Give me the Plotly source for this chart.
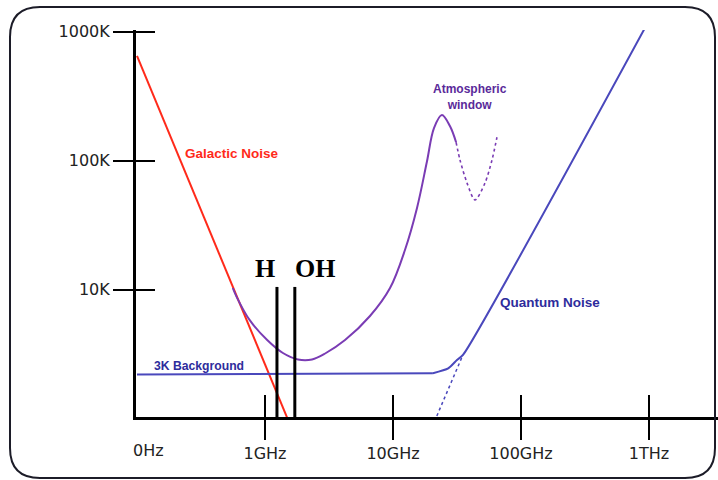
import math
import plotly.graph_objects as go

# ---------------- data (frequency in GHz, temperature in K) ----------------
galactic_freq = [0.1, 1.5]
galactic_temp = [650, 1.0]

total_freq = [0.56, 0.60, 0.76, 1.04, 1.38, 1.81, 2.33, 2.95, 4.22, 6.61, 9.48, 12.4, 15.4, 18.4, 20.9, 24.1, 27.9, 31.1]
total_temp = [10.3, 8.8, 5.8, 4.07, 3.23, 2.88, 2.88, 3.2, 4.07, 6.25, 10.3, 20.3, 43, 98, 179, 226, 185, 139]

atmo_freq = [31.1, 33.4, 37.9, 43.7, 52.3, 59.3, 64.9]
atmo_temp = [139, 101, 67, 49.6, 67, 101, 152]

background_freq = [0.1, 10.7, 20.5]
background_temp = [2.2, 2.25, 2.25]

rise_freq = [20.5, 27.0, 31.6, 35.2, 930]
rise_temp = [2.25, 2.45, 2.85, 3.12, 1070]

quantum_dot_freq = [22.0, 35.2]
quantum_dot_temp = [1.05, 3.12]

line_freqs = [1.24, 1.71]
line_names = ["H", "OH"]
line_bottom = 1.0
line_top = 10.5

x_tick_vals = [1, 10, 100, 1000]
x_tick_text = ["1GHz", "10GHz", "100GHz", "1THz"]
y_tick_vals = [10, 100, 1000]
y_tick_text = ["10K", "100K", "1000K"]

# ---------------- styles ----------------
RED = "#ff2a1a"
PURPLE = "#7a3cb4"
BLUE = "#4a48bc"
NAVY = "#2e2c9c"
ML, MR, MT, MB = 136, 0, 30, 63
W, H = 718, 480
XR = [-1.0078, 3.539]
YR = [0.0129, 3.013]

fig = go.Figure()

fig.add_trace(go.Scatter(x=galactic_freq, y=galactic_temp, mode="lines",
                         line=dict(color=RED, width=2)))
fig.add_trace(go.Scatter(x=total_freq, y=total_temp, mode="lines",
                         line=dict(color=PURPLE, width=2, shape="spline", smoothing=1.0)))
fig.add_trace(go.Scatter(x=atmo_freq, y=atmo_temp, mode="lines",
                         line=dict(color=PURPLE, width=1.6, dash="dot", shape="spline", smoothing=0.8)))
fig.add_trace(go.Scatter(x=background_freq, y=background_temp, mode="lines",
                         line=dict(color=BLUE, width=2)))
fig.add_trace(go.Scatter(x=rise_freq, y=rise_temp, mode="lines",
                         line=dict(color=BLUE, width=2, shape="spline", smoothing=0.6)))
fig.add_trace(go.Scatter(x=quantum_dot_freq, y=quantum_dot_temp, mode="lines",
                         line=dict(color=BLUE, width=1.5, dash="dot")))
for f in line_freqs:
    fig.add_trace(go.Scatter(x=[f, f], y=[line_bottom, line_top], mode="lines",
                             line=dict(color="black", width=3)))

# overlay axes to make ticks cross the axis lines
fig.add_trace(go.Scatter(x=[1], y=[10], xaxis="x2", yaxis="y2", mode="markers",
                         marker=dict(opacity=0), hoverinfo="skip"))

tick_font = dict(family="DejaVu Sans", size=16, color="#222222")
fig.update_layout(
    width=W, height=H,
    margin=dict(l=ML, r=MR, t=MT, b=MB),
    paper_bgcolor="white", plot_bgcolor="white",
    showlegend=False,
    xaxis=dict(type="log", range=XR, showgrid=False, zeroline=False,
               showline=True, linecolor="black", linewidth=3,
               ticks="outside", ticklen=20, tickwidth=2, tickcolor="black",
               tickvals=x_tick_vals, ticktext=x_tick_text, tickfont=tick_font),
    yaxis=dict(type="log", range=YR, showgrid=False, zeroline=False,
               showline=True, linecolor="black", linewidth=3,
               ticks="outside", ticklen=20, tickwidth=2, tickcolor="black",
               tickvals=y_tick_vals, ticktext=y_tick_text, tickfont=tick_font),
    xaxis2=dict(type="log", range=XR, overlaying="x", anchor="y", side="bottom",
                showgrid=False, zeroline=False, showline=False,
                ticks="inside", ticklen=22, tickwidth=2, tickcolor="black",
                tickvals=x_tick_vals, showticklabels=False),
    yaxis2=dict(type="log", range=YR, overlaying="y", anchor="x", side="left",
                showgrid=False, zeroline=False, showline=False,
                ticks="inside", ticklen=19, tickwidth=2, tickcolor="black",
                tickvals=y_tick_vals, showticklabels=False),
)

# ---------------- text ----------------
lab = dict(family="Liberation Sans", size=13.5)
fig.add_annotation(x=-0.64, y=2.052, xref="x", yref="y", text="<b>Galactic Noise</b>",
                   showarrow=False, xanchor="left", yanchor="middle",
                   font=dict(lab, color=RED))
fig.add_annotation(x=-0.883, y=0.409, xref="x", yref="y", text="<b>3K Background</b>",
                   showarrow=False, xanchor="left", yanchor="middle",
                   font=dict(family="Liberation Sans", size=12.2, color=NAVY))
fig.add_annotation(x=1.82, y=0.897, xref="x", yref="y", text="<b>Quantum Noise</b>",
                   showarrow=False, xanchor="left", yanchor="middle",
                   font=dict(lab, color=NAVY))
fig.add_annotation(x=1.602, y=2.49, xref="x", yref="y", text="<b>Atmospheric<br>window</b>",
                   showarrow=False, xanchor="center", yanchor="middle",
                   font=dict(family="Liberation Sans", size=12, color="#5a2a9a"))

shifts = [-12, 20]
for f, name, s in zip(line_freqs, line_names, shifts):
    fig.add_annotation(x=math.log10(f), y=1.168, xref="x", yref="y", text="<b>" + name + "</b>",
                       showarrow=False, xanchor="center", yanchor="middle", xshift=s,
                       font=dict(family="Liberation Serif", size=26, color="black"))

fig.add_annotation(x=0, y=0, xref="paper", yref="paper", text="0Hz", showarrow=False,
                   xanchor="center", yanchor="middle", xshift=12, yshift=-33,
                   font=tick_font)

# ---------------- rounded frame ----------------
def px(xp):
    return (xp - ML) / (W - ML - MR)

def py(yp):
    return (H - MB - yp) / (H - MT - MB)

L_, R_, T_, B_, r = 10, 715, 7, 478, 30
path = (f"M {px(L_+r)},{py(T_)} L {px(R_-r)},{py(T_)} Q {px(R_)},{py(T_)} {px(R_)},{py(T_+r)} "
        f"L {px(R_)},{py(B_-r)} Q {px(R_)},{py(B_)} {px(R_-r)},{py(B_)} "
        f"L {px(L_+r)},{py(B_)} Q {px(L_)},{py(B_)} {px(L_)},{py(B_-r)} "
        f"L {px(L_)},{py(T_+r)} Q {px(L_)},{py(T_)} {px(L_+r)},{py(T_)} Z")
fig.add_shape(type="path", path=path, xref="paper", yref="paper",
              line=dict(color="#1c1c28", width=2), layer="above")

fig.write_html("out.html", config={"displayModeBar": False},
               post_script="document.body.style.margin='0px';document.body.style.overflow='hidden';")
